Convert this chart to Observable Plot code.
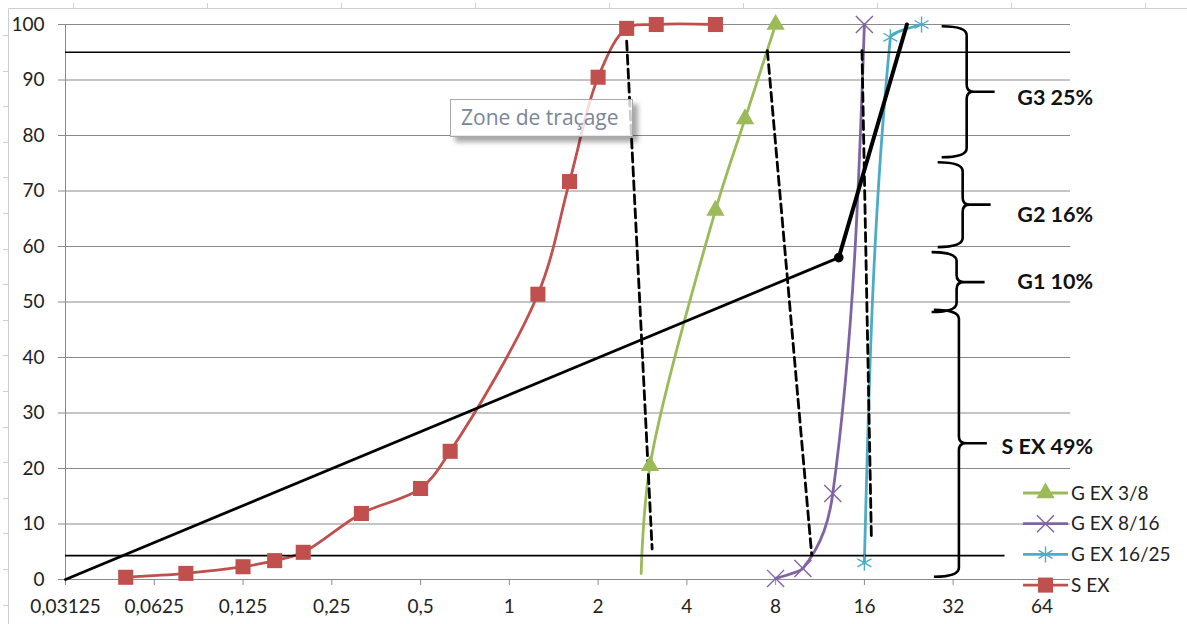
<!DOCTYPE html>
<html><head><meta charset="utf-8">
<script src="https://cdn.jsdelivr.net/npm/d3@7"></script>
<script src="https://cdn.jsdelivr.net/npm/@observablehq/plot@0.6"></script>
<style>
body{margin:0;background:#fff;}
#wrap{position:relative;width:1187px;height:624px;overflow:hidden;}
#tip{position:absolute;left:450px;top:99px;width:183px;height:38px;border:1px solid #a8a8a8;background:rgba(255,255,255,0.8);box-shadow:5px 5px 5px rgba(0,0,0,0.35);font:21px "Open Sans",sans-serif;color:#7a8699;line-height:35px;padding-left:10px;box-sizing:border-box;white-space:nowrap;}
</style></head>
<body><div id="wrap"></div>
<script>
// ---- data ----
const xTicks = [0.03125, 0.0625, 0.125, 0.25, 0.5, 1, 2, 4, 8, 16, 32, 64];
const yTicks = [0, 10, 20, 30, 40, 50, 60, 70, 80, 90, 100];

const sexX = [0.05, 0.08, 0.125, 0.16, 0.2, 0.315, 0.5, 0.63, 1.25, 1.6, 2, 2.5, 3.15, 5];
const sexY = [0.4, 1.1, 2.3, 3.4, 4.9, 11.9, 16.4, 23.1, 51.4, 71.7, 90.5, 99.3, 100, 100];

const g38X = [2.8, 3, 5, 6.3, 8];
const g38Y = [1.1, 20.5, 66.5, 83, 100];

const g816X = [8, 9.9, 12.5, 16];
const g816Y = [0.2, 2, 15.5, 100];

const g1625X = [16, 19.6, 25];
const g1625Y = [3, 97.7, 100];

const legendLabels = ["G EX 3/8", "G EX 8/16", "G EX 16/25", "S EX"];

const trendX = [0.03125, 13.1, 22.3];
const trendY = [0, 58, 100];

const limitY = [95, 4.3];
const limitX1 = [0.03125, 0.03125];
const limitX2 = [80, 48];

const dashX1 = [2.5, 7.5, 15.7];
const dashY1 = [97, 95.3, 95.3];
const dashX2 = [3.05, 10.6, 16.9];
const dashY2 = [5.5, 4.5, 7.4];

const braceLabels = ["G3 25%", "G2 16%", "G1 10%", "S EX 49%"];
const braceTop = [99.6, 75.1, 58.9, 48.5];
const braceBottom = [76.0, 59.8, 48.1, 0.4];
const braceX = [35.7, 34.6, 33.0, 33.6];
const braceLabelY = [86.8, 65.6, 53.5, 23.8];
const braceLabelX = [95.5, 95.5, 95.5, 95.5];

const tooltipText = "Zone de traçage";

// ---- tables ----
const zip = (xs, ys) => xs.map((x, i) => ({x, y: ys[i]}));
const sex = zip(sexX, sexY);
const g38 = zip(g38X, g38Y);
const g816 = zip(g816X, g816Y);
const g1625 = zip(g1625X, g1625Y);
const trend = zip(trendX, trendY);
const limits = limitY.map((y, i) => ({y, x1: limitX1[i], x2: limitX2[i]}));
const dashes = dashX1.flatMap((x, i) => [{x, y: dashY1[i], k: i}, {x: dashX2[i], y: dashY2[i], k: i}]);
const braceText = braceLabels.map((t, i) => ({t, x: braceLabelX[i], y: braceLabelY[i]}));

const RED = "#C0504D", GREEN = "#9BBB59", PURPLE = "#8064A2", CYAN = "#4BACC6";
const GRID = "#8a8a8a";
const FS = 19;
const fmt = d => String(d).replace(".", ",");

const chart = Plot.plot({
  width: 1187, height: 624,
  marginLeft: 65, marginRight: 117, marginTop: 24, marginBottom: 45,
  style: {fontFamily: "Lato, sans-serif", fontSize: FS + "px", background: "transparent", color: "#222", overflow: "visible"},
  x: {type: "log", base: 2, domain: [1/32, 80]},
  y: {domain: [0, 100]},
  marks: [
    Plot.ruleY(yTicks, {stroke: GRID, strokeWidth: 1}),
    Plot.ruleX([xTicks[0]], {y1: 0, y2: 100, stroke: GRID}),
    Plot.axisY({ticks: yTicks, tickSize: 7, tickPadding: 14, stroke: GRID, color: "#222", label: null, fontSize: FS}),
    Plot.axisX({ticks: xTicks, tickSize: 6, tickPadding: 14, tickFormat: fmt, stroke: GRID, color: "#222", label: null, fontSize: FS}),
    // series
    Plot.line(g38, {x: "x", y: "y", stroke: GREEN, strokeWidth: 2.8, curve: "catmull-rom"}),
    Plot.line(g816, {x: "x", y: "y", stroke: PURPLE, strokeWidth: 2.8, curve: "monotone-y"}),
    Plot.line(g1625, {x: "x", y: "y", stroke: CYAN, strokeWidth: 2.8, curve: "monotone-y"}),
    Plot.line(sex, {x: "x", y: "y", stroke: RED, strokeWidth: 2.8, curve: "catmull-rom"}),
    // reference lines
    Plot.ruleY(limits, {y: "y", x1: "x1", x2: "x2", stroke: "#000", strokeWidth: 1.6}),
    Plot.line(trend.slice(0, 2), {x: "x", y: "y", stroke: "#000", strokeWidth: 2.8}),
    Plot.line(trend.slice(1), {x: "x", y: "y", stroke: "#000", strokeWidth: 4}),
    Plot.dot([trend[1]], {x: "x", y: "y", r: 4.8, fill: "#000"}),
    Plot.line(dashes, {x: "x", y: "y", z: "k", stroke: "#000", strokeWidth: 2.8, strokeDasharray: "9,5"}),
    // markers
    Plot.dot(g38.slice(1), {x: "x", y: "y", symbol: "triangle", r: 6.8, fill: GREEN}),
    Plot.dot(g816, {x: "x", y: "y", symbol: "times", r: 7.8, stroke: PURPLE, strokeWidth: 1.4}),
    Plot.dot(g1625, {x: "x", y: "y", symbol: "asterisk", r: 7.6, stroke: CYAN, strokeWidth: 1.4}),
    Plot.dot(sex, {x: "x", y: "y", symbol: "square", r: 8.5, fill: RED}),
    // brace labels
    Plot.text(braceText, {x: "x", y: "y", text: "t", textAnchor: "end", fontWeight: "bold", fontSize: 21.5, fill: "#111"})
  ]
});

const wrap = document.getElementById("wrap");
wrap.appendChild(chart);
chart.style.position = "absolute";
chart.style.left = "0px";
chart.style.top = "0px";
const svg = d3.select(chart);
const xs = chart.scale("x").apply, ys = chart.scale("y").apply;

// outer frame decoration
const fr = svg.insert("g", ":first-child").attr("stroke", "#cfcfcf").attr("stroke-width", 1).attr("fill", "none");
fr.append("path").attr("d", "M8.5,624V8.5H1187");
for (let x = 73; x < 1187; x += 134) fr.append("path").attr("d", `M${x + 0.5},3V8.5`);
for (let y = 35; y < 624; y += 35.6) fr.append("path").attr("d", `M3,${Math.round(y) + 0.5}H8.5`);

// braces
const bg = svg.append("g").attr("fill", "none").attr("stroke", "#000").attr("stroke-width", 2.6).attr("stroke-linejoin", "round");
braceLabels.forEach((lab, i) => {
  const x = xs(braceX[i]), y0 = ys(braceTop[i]), y1 = ys(braceBottom[i]), ym = (y0 + y1) / 2;
  const w = 25, r = 9, r2 = 7, t = 28;
  bg.append("path").attr("d",
    `M${x - w},${y0} Q${x},${y0} ${x},${y0 + r} L${x},${ym - r2} Q${x},${ym} ${x + r2},${ym} L${x + t},${ym} ` +
    `M${x + r2},${ym} Q${x},${ym} ${x},${ym + r2} L${x},${y1 - r} Q${x},${y1} ${x - w},${y1}`);
});

// legend
const colors = [GREEN, PURPLE, CYAN, RED];
const syms = [d3.symbolTriangle, d3.symbolTimes, d3.symbolAsterisk, d3.symbolSquare];
const sizes = [Math.PI * 6.8 * 6.8, Math.PI * 7.8 * 7.8, Math.PI * 7.6 * 7.6, Math.PI * 8.5 * 8.5];
const lg = svg.append("g").attr("font-family", "Lato, sans-serif").attr("font-size", FS).attr("text-anchor", "start");
legendLabels.forEach((lab, i) => {
  const cy = 493 + i * 30.7;
  lg.append("line").attr("x1", 1023).attr("x2", 1068).attr("y1", cy).attr("y2", cy).attr("stroke", colors[i]).attr("stroke-width", 2.8);
  const s = lg.append("path").attr("d", d3.symbol(syms[i], sizes[i])()).attr("transform", `translate(1045.5,${cy})`);
  if (i === 1 || i === 2) s.attr("fill", "none").attr("stroke", colors[i]).attr("stroke-width", 1.4);
  else s.attr("fill", colors[i]);
  lg.append("text").attr("x", 1071).attr("y", cy).attr("dy", "0.35em").attr("fill", "#222").text(lab);
});

// tooltip
const tip = document.createElement("div");
tip.id = "tip";
tip.textContent = tooltipText;
wrap.appendChild(tip);
</script></body></html>
